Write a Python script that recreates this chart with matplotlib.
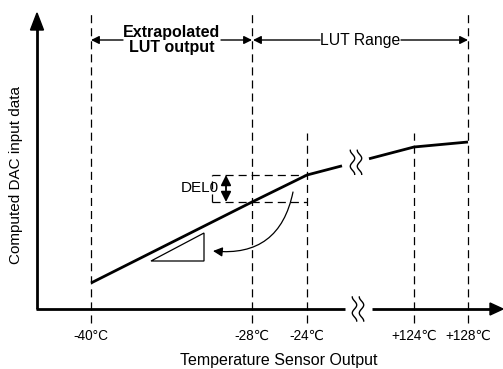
import numpy as np
import matplotlib
matplotlib.use("Agg")
import matplotlib.pyplot as plt
from matplotlib.patches import FancyArrowPatch, Polygon

plt.rcParams["font.family"] = ["Liberation Sans", "DejaVu Sans"]
plt.rcParams["lines.scale_dashes"] = False

# ================= DIAGRAM DATA =================
# marker temperatures and their horizontal positions on the (broken) axis
temp_labels = ["-40°C", "-28℃", "-24℃", "+124℃", "+128℃"]
temp_pos = [91, 252, 307, 414, 468]
# top end of each vertical guide line
guide_top = [296, 296, 176, 176, 296]

# computed DAC output at each marker (height above the x axis)
dac_at_temp = [26, 107, 134, 162, 167]
# the curve is cut between these two positions (axis break)
break_x = [342, 369]

# DEL0 step drawn between -28 and -24
del0_low, del0_high = dac_at_temp[1], dac_at_temp[2]

# ================= FIGURE =================
fig = plt.figure(figsize=(5.03, 3.69), dpi=100)
ax = fig.add_axes([0, 0, 1, 1])
ax.set_xlim(0, 503)
ax.set_ylim(-60, 309)
ax.axis("off")

dash = (0, (5.8, 3.6))
axis_y = 0
axis_x = 37

# ---- vertical guide lines ----
for x, top in zip(temp_pos, guide_top):
    ax.plot([x, x], [-14, top], color="black", lw=0.9, linestyle=dash)

# ---- axes ----
ax.plot([axis_x, axis_x], [axis_y, 280], color="black", lw=2.0, solid_capstyle="butt")
ax.add_patch(Polygon([[axis_x - 6.5, 279], [axis_x + 6.5, 279], [axis_x, 296]],
                     closed=True, color="black"))
ax.plot([axis_x - 1, 345], [axis_y, axis_y], color="black", lw=2.0, solid_capstyle="butt")
ax.plot([372, 492], [axis_y, axis_y], color="black", lw=2.0, solid_capstyle="butt")
ax.add_patch(Polygon([[490, axis_y + 6], [490, axis_y - 6], [503, axis_y]],
                     closed=True, color="black"))


def squiggle(xc, yc, half=12):
    t = np.linspace(-half, half, 60)
    for off in (-3.5, 3.5):
        ax.plot(xc + off + 2.2 * np.sin(np.pi * t / 8), yc + t, color="black", lw=1.0)


squiggle(358, axis_y)

# ---- computed DAC curve ----
xs = temp_pos[:3]
ys = dac_at_temp[:3]
slope = (dac_at_temp[3] - dac_at_temp[2]) / (temp_pos[3] - temp_pos[2])
y_b0 = dac_at_temp[2] + slope * (break_x[0] - temp_pos[2])
y_b1 = dac_at_temp[2] + slope * (break_x[1] - temp_pos[2])
ax.plot(xs + [break_x[0]], ys + [y_b0], color="black", lw=2.0, solid_capstyle="butt")
ax.plot([break_x[1]] + temp_pos[3:], [y_b1] + dac_at_temp[3:], color="black", lw=2.0,
        solid_capstyle="butt")
squiggle(356, (y_b0 + y_b1) / 2)

# ---- DEL0 box and arrow ----
ax.plot([212, temp_pos[2]], [del0_high, del0_high], color="black", lw=0.9, linestyle=dash)
ax.plot([212, temp_pos[2]], [del0_low, del0_low], color="black", lw=0.9, linestyle=dash)
ax.plot([212, 212], [del0_low, del0_high], color="black", lw=0.9, linestyle=dash)
ax.add_patch(FancyArrowPatch((226, del0_low), (226, del0_high), arrowstyle="<|-|>",
                             mutation_scale=15, color="black", lw=1.3,
                             shrinkA=0, shrinkB=0))
ax.text(219, (del0_low + del0_high) / 2, "DEL0", ha="right", va="center", fontsize=11)

# ---- slope triangle and curved arrow ----
ax.add_patch(Polygon([[151, 48], [204, 76], [204, 48]], closed=True, fill=False,
                     edgecolor="black", lw=0.9))
ax.add_patch(FancyArrowPatch((293, 117), (213, 58), connectionstyle="arc3,rad=-0.45",
                             arrowstyle="-|>", mutation_scale=14, color="black", lw=0.9,
                             shrinkA=0, shrinkB=0))

# ---- range annotations ----
range_y = 269
ax.add_patch(FancyArrowPatch((123, range_y), (temp_pos[0], range_y), arrowstyle="-|>",
                             mutation_scale=12, color="black", lw=1.0, shrinkA=0, shrinkB=0))
ax.add_patch(FancyArrowPatch((221, range_y), (temp_pos[1], range_y), arrowstyle="-|>",
                             mutation_scale=12, color="black", lw=1.0, shrinkA=0, shrinkB=0))
ax.text(172, 269, "Extrapolated\nLUT output", ha="center", va="center", fontsize=11.5,
        fontweight="bold", linespacing=1.05)
ax.add_patch(FancyArrowPatch((320, range_y), (temp_pos[1] + 1, range_y), arrowstyle="-|>",
                             mutation_scale=12, color="black", lw=1.0, shrinkA=0, shrinkB=0))
ax.add_patch(FancyArrowPatch((401, range_y), (temp_pos[4], range_y), arrowstyle="-|>",
                             mutation_scale=12, color="black", lw=1.0, shrinkA=0, shrinkB=0))
ax.text(360, range_y, "LUT Range", ha="center", va="center", fontsize=11.3)

# ---- labels ----
for x, lab in zip(temp_pos, temp_labels):
    ax.text(x, -27, lab, ha="center", va="center", fontsize=9.8)
ax.text(279, -51, "Temperature Sensor Output", ha="center", va="center", fontsize=11.5)
ax.text(16, 134, "Computed DAC input data", ha="center", va="center", fontsize=11,
        rotation=90)

plt.savefig("out.png", dpi=100)
